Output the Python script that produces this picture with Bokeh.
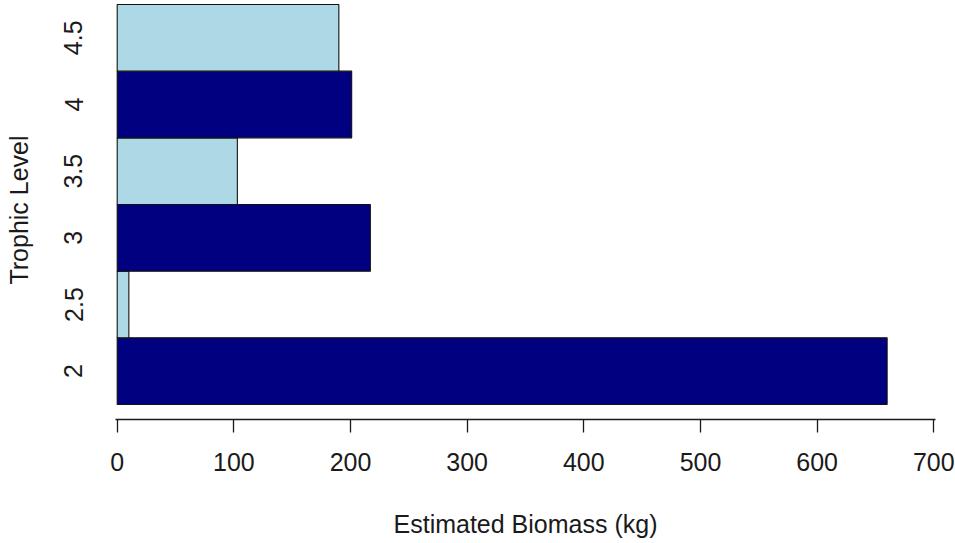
from bokeh.plotting import figure
from bokeh.models import Range1d, FixedTicker, ColumnDataSource
from bokeh.embed import file_html
from bokeh.resources import INLINE

# ---- data ----
levels = ["2", "2.5", "3", "3.5", "4", "4.5"]
biomass = [660, 10, 217, 103, 201, 190]
bar_colors = ["navy", "lightblue", "navy", "lightblue", "navy", "lightblue"]
x_ticks = [0, 100, 200, 300, 400, 500, 600, 700]
x_title = "Estimated Biomass (kg)"
y_title = "Trophic Level"

FONT = "Liberation Sans"
FS = "25px"
TXT = "#1a1a1a"

ypos = [i + 0.5 for i in range(len(levels))]
src = ColumnDataSource(dict(y=ypos, right=biomass, color=bar_colors, level=levels))

W, H = 955, 543
p = figure(width=W, height=H, output_backend="svg", toolbar_location=None,
           x_range=Range1d(-1.457, 701.457), y_range=Range1d(-0.225, 6.06),
           min_border_left=115, min_border_right=20, min_border_top=0,
           min_border_bottom=124)
p.outline_line_color = None
p.grid.visible = False
p.background_fill_color = "white"
p.border_fill_color = "white"

p.hbar(y="y", left=0, right="right", height=1.0, fill_color="color",
       line_color="#111111", line_width=1.1, source=src)

# x axis
xa = p.xaxis[0]
xa.ticker = FixedTicker(ticks=x_ticks)
xa.minor_tick_line_color = None
xa.major_tick_in = 0
xa.major_tick_out = 13
xa.major_tick_line_color = TXT
xa.major_tick_line_width = 1.3
xa.axis_line_color = TXT
xa.axis_line_width = 1.3
xa.major_label_text_font = FONT
xa.major_label_text_font_size = FS
xa.major_label_text_color = TXT
xa.major_label_standoff = 20
xa.axis_label = x_title
xa.axis_label_text_font = FONT
xa.axis_label_text_font_size = FS
xa.axis_label_text_font_style = "normal"
xa.axis_label_text_color = TXT
xa.axis_label_standoff = 36

# y axis
ya = p.yaxis[0]
ya.ticker = FixedTicker(ticks=ypos)
ya.major_label_overrides = {y: lab for y, lab in zip(ypos, levels)}
ya.major_label_orientation = "vertical"
ya.axis_line_color = None
ya.major_tick_line_color = None
ya.minor_tick_line_color = None
ya.major_tick_in = 0
ya.major_tick_out = 0
ya.major_label_text_font = FONT
ya.major_label_text_font_size = FS
ya.major_label_text_color = TXT
ya.major_label_standoff = 33
ya.axis_label = y_title
ya.axis_label_text_font = FONT
ya.axis_label_text_font_size = FS
ya.axis_label_text_font_style = "normal"
ya.axis_label_text_color = TXT
ya.axis_label_standoff = 29

open("out.html", "w").write(file_html(p, INLINE))
